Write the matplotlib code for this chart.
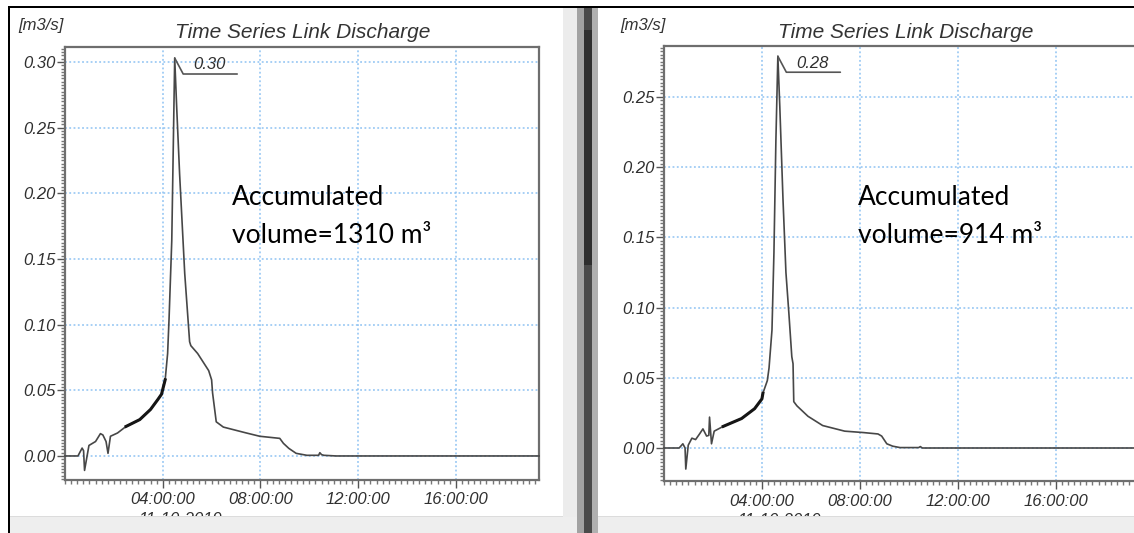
import numpy as np
import matplotlib
matplotlib.use("Agg")
import matplotlib.pyplot as plt
from matplotlib.patches import Rectangle
from matplotlib.ticker import MultipleLocator

# --- data (hours since 00:00, discharge m3/s) ---
t_left = np.array([0, 0.53, 0.70, 0.76, 0.80, 0.98, 1.25, 1.45, 1.55, 1.68, 1.76, 1.86,
                   2.15, 2.5, 3.06, 3.5, 3.8, 3.95, 4.1, 4.2, 4.26, 4.37, 4.49, 4.57,
                   4.69, 4.9, 5.1, 5.15, 5.43, 5.88, 6.0, 6.04, 6.19, 6.48, 7.38, 7.97,
                   8.79, 8.94, 9.16, 9.46, 9.9, 10.38, 10.43, 10.5, 10.6, 11.1, 19.4])
q_left = np.array([0, 0, 0.006, 0.004, -0.011, 0.008, 0.011, 0.017, 0.016, 0.011, 0.002, 0.015,
                   0.0175, 0.0225, 0.0277, 0.0354, 0.043, 0.047, 0.058, 0.078, 0.105, 0.164, 0.303, 0.266,
                   0.215, 0.139, 0.087, 0.084, 0.078, 0.065, 0.058, 0.048, 0.026, 0.022, 0.0177, 0.015,
                   0.0134, 0.0096, 0.0058, 0.002, 0.0005, 0.0005, 0.0025, 0.001, 0.0005, 0, 0])

t_right = np.array([0, 0.62, 0.77, 0.86, 0.89, 0.99, 1.14, 1.29, 1.44, 1.59, 1.74, 1.83, 1.86,
                    1.94, 2.05, 2.42, 3.17, 3.7, 4.0, 4.04, 4.22, 4.29, 4.41, 4.49, 4.57, 4.65,
                    4.73, 4.86, 4.98, 5.1, 5.22, 5.27, 5.30, 5.43, 5.88, 6.48, 7.38, 8.14, 8.74,
                    8.89, 9.1, 9.34, 9.64, 10.4, 10.47, 10.55, 19.4])
q_right = np.array([0, 0, 0.003, 0.0, -0.015, 0.002, 0.007, 0.006, 0.0097, 0.0136, 0.0085, 0.009, 0.022,
                    0.003, 0.012, 0.0154, 0.021, 0.028, 0.035, 0.039, 0.048, 0.057, 0.084, 0.139, 0.219, 0.279,
                    0.243, 0.177, 0.125, 0.096, 0.065, 0.060, 0.033, 0.030, 0.0226, 0.016, 0.012, 0.011, 0.010,
                    0.0085, 0.003, 0.0013, 0.0003, 0.0003, 0.001, 0, 0])

volumes = ["1310", "914"]
x_ticks = [4, 8, 12, 16]
x_labels = ["04:00:00", "08:00:00", "12:00:00", "16:00:00"]
y_ticks_left = [0.00, 0.05, 0.10, 0.15, 0.20, 0.25, 0.30]
y_ticks_right = [0.00, 0.05, 0.10, 0.15, 0.20, 0.25]
date_label = "11-10-2019"

W, H = 1134, 533
fig = plt.figure(figsize=(W / 100, H / 100), dpi=100)
fig.patch.set_facecolor("white")


def rect_px(l, t, r, b):
    return [l / W, 1 - b / H, (r - l) / W, (b - t) / H]


def fig_box(l, t, r, b, color, z=5):
    fig.add_artist(Rectangle((l / W, 1 - b / H), (r - l) / W, (b - t) / H,
                             transform=fig.transFigure, facecolor=color,
                             edgecolor="none", zorder=z))


tick_font = dict(family="Liberation Sans", style="italic", size=12, color="#303030")
note_font = dict(family="Lato", size=19, color="black")


def panel(box, t, q, ylim, yticks, volume, title_x, unit_x, note_x):
    ax = fig.add_axes(rect_px(*box))
    ax.plot(t, q, color="#474747", lw=1.2, zorder=3, clip_on=False)
    m = (t >= 2.2) & (t <= 4.15)
    ax.plot(t[m], q[m], color="#151515", lw=2.2, zorder=3)
    ax.set_xlim(0, 19.4)
    ax.set_ylim(*ylim)
    ax.set_xticks(x_ticks)
    ax.set_xticklabels(x_labels, fontdict=tick_font)
    ax.set_yticks(yticks)
    ax.set_yticklabels([f"{v:.2f}" for v in yticks], fontdict=tick_font)
    ax.xaxis.set_minor_locator(MultipleLocator(0.25))
    ax.yaxis.set_minor_locator(MultipleLocator(0.0025))
    ax.tick_params(which="major", length=6, width=1, color="#555", pad=3)
    ax.tick_params(which="minor", length=3, width=1, color="#777")
    ax.tick_params(axis="y", which="major", pad=1)
    ax.grid(True, which="major", color="#8ec2f2", ls=(0, (1.2, 1.6)), lw=1.1)
    for s in ax.spines.values():
        s.set_color("#6e6e6e")
        s.set_linewidth(1.6)

    i = int(np.argmax(q))
    ax.annotate("", xy=(t[i], q[i]), xytext=(45, -11.5), textcoords="offset points",
                arrowprops=dict(arrowstyle="-", color="#555", lw=1.2, shrinkA=0, shrinkB=0,
                                connectionstyle="angle,angleA=0,angleB=-62,rad=0"))
    ax.annotate(f"{q[i]:.2f}", xy=(t[i], q[i]), xytext=(25, -5), textcoords="offset points",
                ha="center", va="center", **tick_font)

    # second tick line (date), mostly hidden behind the scrollbar strip
    ax.text(3.0, -0.074, date_label, transform=ax.get_xaxis_transform(),
            ha="left", va="top", clip_on=False, **tick_font)

    fig.text(title_x / W, 1 - 38 / H, "Time Series Link Discharge", ha="center",
             va="baseline", family="Liberation Sans", style="italic", size=15, color="#333333")
    fig.text(unit_x / W, 1 - 30 / H, "[m3/s]", ha="left", va="baseline",
             family="Liberation Sans", style="italic", size=12, color="#333333")
    fig.text(note_x / W, 1 - 205 / H, "Accumulated", ha="left", va="baseline", **note_font)
    fig.text(note_x / W, 1 - 243 / H, f"volume={volume} m\u00b3", ha="left",
             va="baseline", **note_font)
    return ax


panel((65, 47, 539, 480), t_left, q_left, (-0.0183, 0.3114), y_ticks_left,
      volumes[0], 303, 18, 232)
panel((664, 46, 1139, 481), t_right, q_right, (-0.0235, 0.2863), y_ticks_right,
      volumes[1], 906, 620, 858)

# window chrome of the screenshot
fig_box(9, 517, 1134, 533, "#eeeeee")
fig_box(9, 516, 1134, 517, "#dcdcdc")
fig_box(563, 7, 577, 517, "#ececec")
fig_box(577, 7, 584, 533, "#a2a2a2")
fig_box(584, 7, 592, 533, "#4a4a4a")
fig_box(584, 30, 592, 265, "#2e2e2e", z=6)
fig_box(592, 7, 598, 533, "#b0b0b0")
fig_box(9, 6, 1134, 8, "black", z=7)
fig_box(8, 6, 10, 533, "black", z=7)

fig.savefig("out.png", dpi=100)
